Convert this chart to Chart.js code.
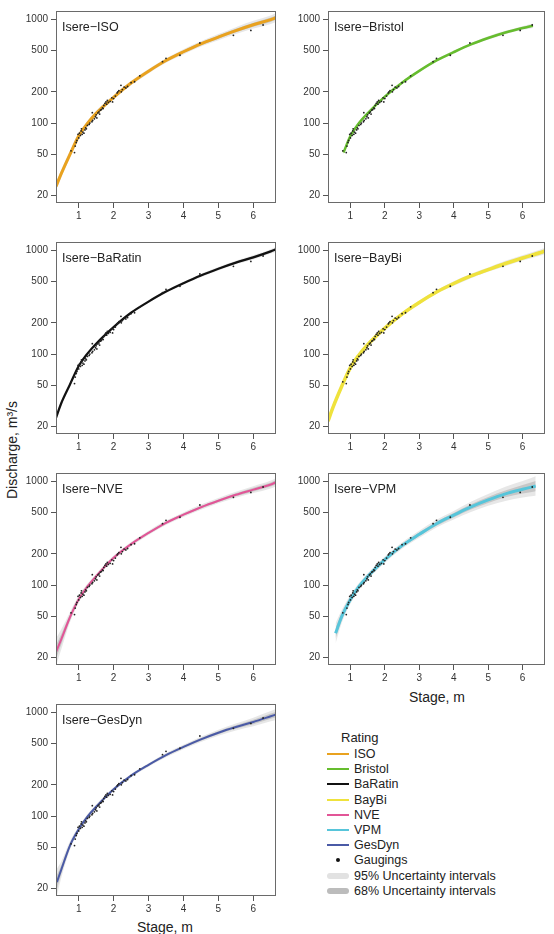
<!DOCTYPE html>
<html lang="en">
<head>
<meta charset="UTF-8">
<title>Isere rating curves</title>
<script src="https://cdn.jsdelivr.net/npm/chart.js"></script>
<style>
  body {
    margin: 0;
    background: #fff;
    font-family: "Liberation Sans", Arial, sans-serif;
    color: #222;
    width: 554px;
    height: 934px;
    position: relative;
    overflow: hidden;
  }
  canvas { position: absolute; }
  .axis-title { position: absolute; font-size: 14px; white-space: nowrap; }
  .ytitle { left: 12px; top: 450px; transform: translate(-50%, -50%) rotate(-90deg); }
  .legend-title { position: absolute; left: 341px; top: 730px; font-size: 13px; }
  .legend-row { position: absolute; left: 327px; height: 14px; font-size: 12.5px; line-height: 14px; }
  .legend-row .sw { position: absolute; left: 0; top: 6px; width: 22px; height: 2px; }
  .legend-row .dot { position: absolute; left: 9px; top: 5px; width: 4px; height: 4px; border-radius: 50%; background: #111; }
  .legend-row .band { position: absolute; left: 0; top: 4px; width: 22px; height: 6px; border-radius: 3px; }
  .legend-row span { position: absolute; left: 27px; top: 0; white-space: nowrap; }
</style>
</head>
<body>

<div class="axis-title ytitle">Discharge, m³/s</div>
<div class="axis-title" style="left:437px; top:697px; transform:translate(-50%,-50%);">Stage, m</div>
<div class="axis-title" style="left:165px; top:927px; transform:translate(-50%,-50%);">Stage, m</div>
<div id="legend"></div>

<script>
// axes
const xTicks = [1, 2, 3, 4, 5, 6];
const yTicks = [20, 50, 100, 200, 500, 1000];

// gaugings (stage m, discharge m3/s), same in every panel
const gaugeStage = [0.78, 0.88, 0.9, 0.93, 0.95, 0.98, 1.0, 1.02, 1.05, 1.07, 1.08, 1.1, 1.12, 1.15, 1.18,
  1.2, 1.22, 1.25, 1.3, 1.32, 1.38, 1.39, 1.4, 1.45, 1.48, 1.5, 1.52, 1.55, 1.58, 1.6, 1.62, 1.65, 1.68,
  1.7, 1.72, 1.75, 1.78, 1.8, 1.82, 1.85, 1.9, 1.95, 1.97, 2.0, 2.05, 2.1, 2.12, 2.15, 2.21, 2.22, 2.25,
  2.3, 2.35, 2.4, 2.5, 2.6, 2.75, 3.4, 3.5, 3.9, 4.47, 5.43, 5.93, 6.28];
const gaugeQ = [54, 52, 60, 65, 68, 78, 72, 80, 76, 84, 88, 78, 82, 80, 86,
  90, 88, 95, 97, 100, 103, 126, 106, 110, 115, 120, 112, 125, 128, 122, 133, 135, 140,
  138, 148, 155, 160, 152, 165, 158, 162, 175, 160, 172, 182, 195, 200, 205, 231, 200, 210,
  222, 218, 225, 245, 250, 285, 390, 420, 450, 590, 700, 780, 880];

// rating curves
const stageFull = [0.35, 0.5, 0.75, 1, 1.25, 1.5, 2, 2.5, 3, 3.5, 4, 4.5, 5, 5.5, 6, 6.5, 6.65];
const stageBristol = [0.8, 1, 1.25, 1.5, 2, 2.5, 3, 3.5, 4, 4.5, 5, 5.5, 6, 6.3];
const stageVPM = [0.57, 0.75, 1, 1.25, 1.5, 2, 2.5, 3, 3.5, 4, 4.5, 5, 5.5, 6, 6.38];
const stageGesDyn = [0.375, 0.5, 0.75, 1, 1.25, 1.5, 2, 2.5, 3, 3.5, 4, 4.5, 5, 5.5, 6, 6.5, 6.65];

const qISO = [24.5, 32.6, 50, 75, 99, 124, 177, 243, 316, 400, 486, 580, 673, 777, 885, 990, 1036];
const qBristol = [52, 75, 100, 124, 180, 245, 318, 401, 482, 572, 659, 745, 823, 866];
const qBaRatin = [24.3, 33.6, 51, 76.7, 101, 126, 182, 250, 320, 400, 482, 572, 664, 760, 854, 975, 1021];
const qBayBi = [22.6, 31, 49, 74, 98, 123, 178, 243, 314, 396, 478, 565, 650, 745, 842, 945, 986];
const qNVE = [22.6, 30, 49, 73, 97, 122, 183, 248, 318, 398, 476, 562, 649, 740, 830, 930, 979];
const qVPM = [34.3, 50, 72.8, 97, 121, 176, 240, 308, 390, 471, 565, 660, 755, 836, 898];
const qGesDyn = [23.1, 30.4, 52, 74.8, 99, 123, 181, 245, 311, 386, 463, 548, 635, 720, 806, 915, 951];

// uncertainty band half-width as a multiplicative factor (95% and 68%)
const f95ISO = [1.10, 1.09, 1.08, 1.07, 1.06, 1.06, 1.05, 1.05, 1.05, 1.05, 1.06, 1.06, 1.07, 1.08, 1.09, 1.10, 1.10];
const f68ISO = [1.05, 1.045, 1.04, 1.035, 1.03, 1.03, 1.025, 1.025, 1.025, 1.025, 1.03, 1.03, 1.035, 1.04, 1.045, 1.05, 1.05];
const f95Bristol = [1.05, 1.04, 1.04, 1.03, 1.03, 1.03, 1.03, 1.03, 1.03, 1.03, 1.04, 1.04, 1.04, 1.05];
const f68Bristol = [1.025, 1.02, 1.02, 1.015, 1.015, 1.015, 1.015, 1.015, 1.015, 1.015, 1.02, 1.02, 1.02, 1.025];
const f95BaRatin = [1.08, 1.07, 1.05, 1.04, 1.04, 1.03, 1.03, 1.03, 1.03, 1.03, 1.03, 1.04, 1.04, 1.04, 1.05, 1.05, 1.06];
const f68BaRatin = [1.04, 1.035, 1.025, 1.02, 1.02, 1.015, 1.015, 1.015, 1.015, 1.015, 1.015, 1.02, 1.02, 1.02, 1.025, 1.025, 1.03];
const f95BayBi = [1.10, 1.08, 1.06, 1.05, 1.05, 1.04, 1.04, 1.04, 1.04, 1.04, 1.05, 1.05, 1.05, 1.06, 1.06, 1.07, 1.07];
const f68BayBi = [1.05, 1.04, 1.03, 1.025, 1.025, 1.02, 1.02, 1.02, 1.02, 1.02, 1.025, 1.025, 1.025, 1.03, 1.03, 1.035, 1.035];
const f95NVE = [1.35, 1.25, 1.12, 1.08, 1.06, 1.05, 1.05, 1.05, 1.05, 1.05, 1.05, 1.06, 1.06, 1.07, 1.08, 1.09, 1.10];
const f68NVE = [1.17, 1.12, 1.06, 1.04, 1.03, 1.025, 1.025, 1.025, 1.025, 1.025, 1.025, 1.03, 1.03, 1.035, 1.04, 1.045, 1.05];
const f95VPM = [1.25, 1.15, 1.10, 1.08, 1.07, 1.07, 1.07, 1.08, 1.09, 1.10, 1.12, 1.14, 1.17, 1.20, 1.24];
const f68VPM = [1.12, 1.08, 1.05, 1.04, 1.035, 1.035, 1.035, 1.04, 1.045, 1.05, 1.06, 1.07, 1.08, 1.10, 1.12];
const f95GesDyn = [1.35, 1.20, 1.10, 1.06, 1.05, 1.05, 1.04, 1.04, 1.04, 1.05, 1.05, 1.06, 1.07, 1.08, 1.10, 1.12, 1.13];
const f68GesDyn = [1.17, 1.10, 1.05, 1.03, 1.025, 1.025, 1.02, 1.02, 1.02, 1.025, 1.025, 1.03, 1.035, 1.04, 1.05, 1.06, 1.065];

const panels = [
  { name: 'ISO',     color: '#E9A21F', lw: 3,   stage: stageFull,    q: qISO,     f95: f95ISO,     f68: f68ISO,     col: 0, row: 0 },
  { name: 'Bristol', color: '#66BD2E', lw: 2.5, stage: stageBristol, q: qBristol, f95: f95Bristol, f68: f68Bristol, col: 1, row: 0 },
  { name: 'BaRatin', color: '#111111', lw: 2.2, stage: stageFull,    q: qBaRatin, f95: f95BaRatin, f68: f68BaRatin, col: 0, row: 1 },
  { name: 'BayBi',   color: '#EFE23C', lw: 3.5, stage: stageFull,    q: qBayBi,   f95: f95BayBi,   f68: f68BayBi,   col: 1, row: 1 },
  { name: 'NVE',     color: '#E25597', lw: 2,   stage: stageFull,    q: qNVE,     f95: f95NVE,     f68: f68NVE,     col: 0, row: 2 },
  { name: 'VPM',     color: '#57C5DA', lw: 3,   stage: stageVPM,     q: qVPM,     f95: f95VPM,     f68: f68VPM,     col: 1, row: 2 },
  { name: 'GesDyn',  color: '#4A5AA6', lw: 2,   stage: stageGesDyn,  q: qGesDyn,  f95: f95GesDyn,  f68: f68GesDyn,  col: 0, row: 3 }
];

const legendItems = [
  ['line', '#E9A21F', 'ISO'], ['line', '#66BD2E', 'Bristol'], ['line', '#111111', 'BaRatin'],
  ['line', '#EFE23C', 'BayBi'], ['line', '#E25597', 'NVE'], ['line', '#57C5DA', 'VPM'],
  ['line', '#4A5AA6', 'GesDyn'], ['dot', '#111', 'Gaugings'],
  ['band', '#e2e2e2', '95% Uncertainty intervals'], ['band', '#bcbcbc', '68% Uncertainty intervals']
];

const FONT = '"Liberation Sans", Arial, sans-serif';
const rowTop = [7, 238, 469, 700];
const plotH = 196;
// column geometry: canvas left, canvas width, y-axis width, right padding
const cols = [
  { left: 0,   width: 280, yw: 56, pr: 4 },
  { left: 280, width: 274, yw: 48, pr: 9 }
];

const boxPlugin = {
  id: 'box',
  afterDraw(chart, args, opts) {
    const a = chart.chartArea, ctx = chart.ctx;
    ctx.save();
    ctx.strokeStyle = '#6a6a6a';
    ctx.lineWidth = 1;
    ctx.strokeRect(Math.round(a.left) + 0.5, Math.round(a.top) + 0.5,
      Math.round(a.right - a.left) - 1, Math.round(a.bottom - a.top) - 1);
    ctx.fillStyle = '#222';
    ctx.font = '12.5px ' + FONT;
    ctx.textBaseline = 'alphabetic';
    ctx.fillText(opts.title, a.left + 6, a.top + 19.5);
    ctx.restore();
  }
};

function pts(xs, ys) {
  return xs.map((x, i) => ({ x: x, y: ys[i] }));
}

panels.forEach(p => {
  const c = cols[p.col];
  const canvas = document.createElement('canvas');
  const top = rowTop[p.row] - 5;
  canvas.width = c.width;
  canvas.height = plotH + 5 + 22;
  canvas.style.left = c.left + 'px';
  canvas.style.top = top + 'px';
  document.body.appendChild(canvas);

  const hi95 = p.q.map((v, i) => v * p.f95[i]);
  const lo95 = p.q.map((v, i) => v / p.f95[i]);
  const hi68 = p.q.map((v, i) => v * p.f68[i]);
  const lo68 = p.q.map((v, i) => v / p.f68[i]);
  const band = { showLine: true, borderWidth: 0, pointRadius: 0, cubicInterpolationMode: 'monotone' };

  new Chart(canvas, {
    type: 'scatter',
    data: {
      datasets: [
        { ...band, data: pts(p.stage, hi95), fill: '+1', backgroundColor: 'rgba(185,185,185,0.35)', order: 5 },
        { ...band, data: pts(p.stage, lo95), fill: false, order: 5 },
        { ...band, data: pts(p.stage, hi68), fill: '+1', backgroundColor: 'rgba(140,140,140,0.35)', order: 4 },
        { ...band, data: pts(p.stage, lo68), fill: false, order: 4 },
        { data: pts(p.stage, p.q), showLine: true, borderColor: p.color, borderWidth: p.lw,
          pointRadius: 0, cubicInterpolationMode: 'monotone', fill: false, order: 2 },
        { data: pts(gaugeStage, gaugeQ), pointRadius: 0.9, pointBackgroundColor: '#222',
          pointBorderWidth: 0, order: 1 }
      ]
    },
    options: {
      responsive: false,
      animation: false,
      layout: { padding: { top: 5, right: c.pr, left: 0, bottom: 0 } },
      plugins: { legend: { display: false }, tooltip: { enabled: false }, box: { title: 'Isere\u2212' + p.name } },
      scales: {
        x: {
          type: 'linear', min: 0.35, max: 6.65,
          afterBuildTicks: s => { s.ticks = xTicks.map(v => ({ value: v })); },
          afterFit: s => { s.height = 22; },
          border: { display: false },
          grid: { drawOnChartArea: false, drawTicks: true, tickLength: 5, color: '#555' },
          ticks: { font: { size: 10, family: FONT }, color: '#333', padding: 2, maxRotation: 0,
            callback: v => String(v) }
        },
        y: {
          type: 'logarithmic', min: 17, max: 1200,
          afterBuildTicks: s => { s.ticks = yTicks.map(v => ({ value: v })); },
          afterFit: s => { s.width = c.yw; },
          border: { display: false },
          grid: { drawOnChartArea: false, drawTicks: true, tickLength: 5, color: '#555' },
          ticks: { font: { size: 10, family: FONT }, color: '#333', padding: 3,
            callback: v => String(v) }
        }
      }
    },
    plugins: [boxPlugin]
  });
});

// legend
const legend = document.getElementById('legend');
const lt = document.createElement('div');
lt.className = 'legend-title';
lt.textContent = 'Rating';
legend.appendChild(lt);
legendItems.forEach((it, i) => {
  const row = document.createElement('div');
  row.className = 'legend-row';
  row.style.top = (747 + i * 15.2) + 'px';
  const sw = document.createElement('div');
  sw.className = it[0] === 'line' ? 'sw' : (it[0] === 'dot' ? 'dot' : 'band');
  if (it[0] !== 'dot') sw.style.background = it[1];
  const tx = document.createElement('span');
  tx.textContent = it[2];
  row.appendChild(sw);
  row.appendChild(tx);
  legend.appendChild(row);
});
</script>
</body>
</html>
